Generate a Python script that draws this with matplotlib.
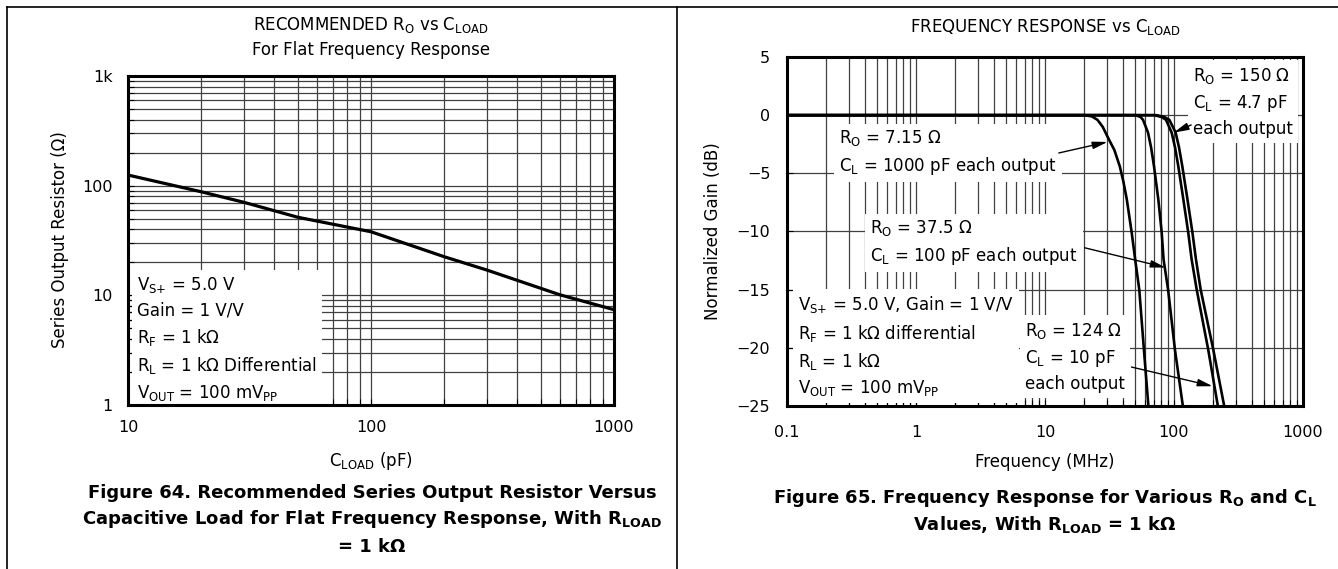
import numpy as np
import matplotlib
matplotlib.use('Agg')
import matplotlib.pyplot as plt
from matplotlib.lines import Line2D
from matplotlib.ticker import NullFormatter, FixedLocator

plt.rcParams['font.family'] = ['DejaVu Sans']
plt.rcParams['mathtext.default'] = 'regular'
plt.rcParams['mathtext.fontset'] = 'dejavusans'

# Figure 64: recommended series output resistor vs load capacitance
c_load = [10, 20, 30, 50, 100, 200, 300, 600, 1000]          # pF
r_out = [125, 88, 70.5, 51.5, 38, 22.5, 17, 10.1, 7.4]        # ohm

# Figure 65: frequency response for four Ro / CL pairs (MHz, dB)
freq_a = [0.1, 20, 23, 25.5, 28, 31, 34.5, 38, 40.5, 43, 47, 50, 53.8, 58.5, 63.2, 65]
gain_a = [0, 0, -0.1, -0.4, -1.0, -2.0, -3.0, -4.4, -5.7, -7.2, -10.1, -12.4, -15, -20.2, -24.9, -26]
freq_b = [0.1, 50, 55, 57.5, 62.9, 66.5, 70, 75.5, 80.3, 83, 90, 101.8, 116.8, 121]
gain_b = [0, 0, -0.15, -0.4, -1.5, -2.8, -4.4, -7.2, -10.1, -12.4, -15, -20.2, -24.9, -26]
freq_c = [0.1, 70, 80, 86.7, 95.9, 102, 108, 118, 129, 137, 150, 184.5, 218, 226]
gain_c = [0, 0, -0.15, -0.4, -1.5, -2.8, -4.4, -7.2, -10.1, -12.4, -15, -20.2, -24.9, -26]
freq_d = [0.1, 73, 84, 92, 103, 109.5, 116, 127, 139, 148, 161, 202, 244, 252]
gain_d = [0, 0, -0.15, -0.4, -1.5, -2.8, -4.4, -7.2, -10.1, -12.4, -15, -20.2, -24.9, -26]

W, H = 1338, 569
fig = plt.figure(figsize=(W / 100, H / 100), dpi=100)


def px(x, y):
    return x / W, 1 - y / H


def decade_lines(lo, hi):
    vals = []
    d = lo
    while d < hi:
        vals += [k * d for k in range(1, 10)]
        d *= 10
    return vals + [hi]


def style_axes(ax):
    for s in ax.spines.values():
        s.set_linewidth(2.2)
    ax.tick_params(which='both', direction='in', top=False, right=False,
                   length=4, width=0.8, labelsize=11.5)
    ax.xaxis.set_minor_formatter(NullFormatter())
    ax.yaxis.set_minor_formatter(NullFormatter())


grid_kw = dict(color='0.25', lw=0.9, zorder=1)
box_kw = dict(boxstyle='square,pad=0.3', fc='white', ec='none')

# ---- left chart ----
ax1 = fig.add_axes([128 / W, 1 - 405 / H, 486 / W, 329 / H])
ax1.set_xscale('log')
ax1.set_yscale('log')
ax1.set_xlim(10, 1000)
ax1.set_ylim(1, 1000)
for v in decade_lines(10, 1000):
    ax1.axvline(v, **grid_kw)
for v in decade_lines(1, 1000):
    ax1.axhline(v, **grid_kw)
ax1.plot(c_load, r_out, color='black', lw=2.3, zorder=3)
style_axes(ax1)
ax1.set_xticks([10, 100, 1000], ['10', '100', '1000'])
ax1.set_yticks([1, 10, 100, 1000], ['1', '10', '100', '1k'])
ax1.tick_params(axis='x', pad=11)
ax1.tick_params(axis='y', pad=11)
ax1.text(10.9, 15.3,
         'V$_{S{+}}$ = 5.0 V\nGain = 1 V/V\nR$_{F}$ = 1 kΩ\n'
         'R$_{L}$ = 1 kΩ Differential\nV$_{OUT}$ = 100 mV$_{PP}$',
         fontsize=12, va='top', ha='left', linespacing=1.45,
         bbox=box_kw, zorder=2)

# ---- right chart ----
ax2 = fig.add_axes([787 / W, 1 - 406 / H, 516 / W, 349 / H])
ax2.set_xscale('log')
ax2.set_xlim(0.1, 1000)
ax2.set_ylim(-25, 5)
for v in decade_lines(0.1, 1000):
    ax2.axvline(v, **grid_kw)
for v in range(-25, 6, 5):
    ax2.axhline(v, **grid_kw)
for f, g in [(freq_a, gain_a), (freq_b, gain_b), (freq_c, gain_c), (freq_d, gain_d)]:
    ax2.plot(f, g, color='black', lw=1.9, zorder=3)
style_axes(ax2)
ax2.set_xticks([0.1, 1, 10, 100, 1000], ['0.1', '1', '10', '100', '1000'])
ax2.set_yticks(list(range(-25, 6, 5)))
ax2.yaxis.set_minor_locator(FixedLocator([]))
ax2.tick_params(axis='x', pad=14)
ax2.tick_params(axis='y', pad=12)

txt_kw = dict(fontsize=12, va='top', ha='left', linespacing=1.45, bbox=box_kw, zorder=2)
ax2.text(139.6, 4.2, 'R$_{O}$ = 150 Ω\nC$_{L}$ = 4.7 pF\neach output', **txt_kw)
ax2.text(0.253, -1.1, 'R$_{O}$ = 7.15 Ω\nC$_{L}$ = 1000 pF each output', **txt_kw)
ax2.text(0.44, -8.85, 'R$_{O}$ = 37.5 Ω\nC$_{L}$ = 100 pF each output', **txt_kw)
ax2.text(0.1217, -15.4,
         'V$_{S{+}}$ = 5.0 V, Gain = 1 V/V\nR$_{F}$ = 1 kΩ differential\n'
         'R$_{L}$ = 1 kΩ\nV$_{OUT}$ = 100 mV$_{PP}$', **txt_kw)
ax2.text(6.97, -17.7, 'R$_{O}$ = 124 Ω\nC$_{L}$ = 10 pF\neach output', **txt_kw)

arrow_kw = dict(arrowstyle='-|>,head_length=0.9,head_width=0.22', color='black',
                lw=1.0, shrinkA=0, shrinkB=0)
ax2.annotate('', xy=(30.6, -2.3), xytext=(12.8, -3.25), arrowprops=arrow_kw, zorder=4)
ax2.annotate('', xy=(86.3, -13.1), xytext=(20.3, -11.4), arrowprops=arrow_kw, zorder=4)
ax2.annotate('', xy=(99.5, -1.5), xytext=(135.9, -0.84), arrowprops=arrow_kw, zorder=4)
ax2.annotate('', xy=(199.5, -23.3), xytext=(46.8, -21.65), arrowprops=arrow_kw, zorder=4)

# ---- titles, labels, captions ----
fig.text(*px(371, 30), 'RECOMMENDED R$_{O}$ vs C$_{LOAD}$', ha='center', va='baseline', fontsize=12)
fig.text(*px(371, 55), 'For Flat Frequency Response', ha='center', va='baseline', fontsize=12)
fig.text(*px(1045, 32), 'FREQUENCY RESPONSE vs C$_{LOAD}$', ha='center', va='baseline', fontsize=12)

fig.text(*px(371, 466), 'C$_{LOAD}$ (pF)', ha='center', va='baseline', fontsize=12)
fig.text(*px(1045, 467), 'Frequency (MHz)', ha='center', va='baseline', fontsize=12)
fig.text(*px(60, 240), 'Series Output Resistor (Ω)', rotation=90, ha='center', va='center', fontsize=12)
fig.text(*px(713, 231), 'Normalized Gain (dB)', rotation=90, ha='center', va='center', fontsize=12)

cap_kw = dict(ha='center', va='baseline', fontsize=13, fontweight='bold')
fig.text(*px(372, 498), 'Figure 64. Recommended Series Output Resistor Versus', **cap_kw)
fig.text(*px(372, 524), 'Capacitive Load for Flat Frequency Response, With R$_{\\mathbf{LOAD}}$', **cap_kw)
fig.text(*px(372, 552), '= 1 kΩ', **cap_kw)
fig.text(*px(1045, 503), 'Figure 65. Frequency Response for Various R$_{\\mathbf{O}}$ and C$_{\\mathbf{L}}$', **cap_kw)
fig.text(*px(1045, 530), 'Values, With R$_{\\mathbf{LOAD}}$ = 1 kΩ', **cap_kw)

# table borders
for xs, ys in [((7, W), (7, 7)), ((7, 7), (7, H)), ((677, 677), (7, H))]:
    fig.add_artist(Line2D([x / W for x in xs], [1 - y / H for y in ys],
                          color='black', lw=1.2))

fig.savefig('out.png', dpi=100)
